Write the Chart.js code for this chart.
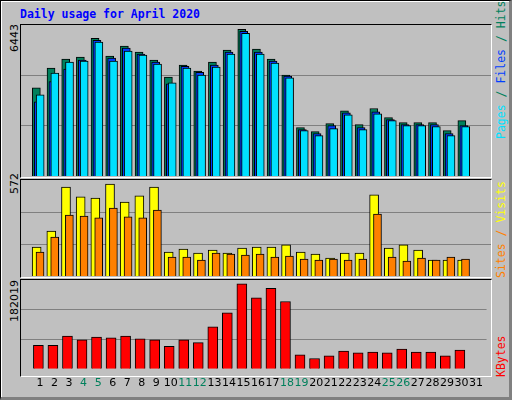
<!DOCTYPE html>
<html><head><meta charset="utf-8">
<script src="https://cdn.jsdelivr.net/npm/chart.js@4"></script>
<style>
body{margin:0;background:#fff;}
#frame{position:absolute;left:0;top:0;width:508px;height:396px;background:#c0c0c0;border:1px solid #000;border-right:3px solid #808080;border-bottom:3px solid #808080;box-shadow:inset 1px 1px 0 #fff;}
.panel{position:absolute;left:20px;width:470px;border:1px solid;border-color:#000 #fff #fff #000;}
canvas{position:absolute;}
.t{position:absolute;font-family:"DejaVu Sans Mono",monospace;white-space:nowrap;}
.rot{transform-origin:left top;transform:rotate(-90deg);}
</style></head><body>
<div id="frame"></div>
<div class="t" style="left:20px;top:7px;font-size:11.5px;font-weight:bold;color:#0000ff">Daily usage for April 2020</div>
<div class="panel" style="top:24px;height:152px"></div>
<div class="panel" style="top:179px;height:97px"></div>
<div class="panel" style="top:279px;height:96px"></div>
<div class="t rot" style="left:8px;top:52px;font-family:'DejaVu Sans';font-size:11px">6443</div>
<div class="t rot" style="left:8px;top:194px;font-family:'DejaVu Sans';font-size:11px">572</div>
<div class="t rot" style="left:8px;top:322px;font-family:'DejaVu Sans';font-size:11px">182019</div>
<div class="t rot" style="left:494px;top:139px;font-size:11.5px"><span style="color:#00e0ff">Pages</span><span style="color:#00805c"> / </span><span style="color:#0040ff">Files</span><span style="color:#00805c"> / Hits</span></div>
<div class="t rot" style="left:494px;top:278px;font-size:11.5px"><span style="color:#ff8000">Sites</span><span style="color:#ff8000"> / </span><span style="color:#ffff00">Visits</span></div>
<div class="t rot" style="left:494px;top:377px;font-size:11.5px;color:#ff0000">KBytes</div>
<canvas id="c1" style="left:21px;top:25px" width="470" height="151"></canvas>
<canvas id="c2" style="left:21px;top:180px" width="470" height="96"></canvas>
<canvas id="c3" style="left:21px;top:280px" width="470" height="118"></canvas>
<script>
const days=[1,2,3,4,5,6,7,8,9,10,11,12,13,14,15,16,17,18,19,20,21,22,23,24,25,26,27,28,29,30,31];
const weekend=[4,5,11,12,18,19,25,26];
const hits=[3760,4607,4989,5074,5879,5116,5540,5286,4947,4226,4735,4480,4862,5370,6260,5413,4989,4311,2064,1895,2234,2785,2191,2882,2488,2276,2276,2276,1937,2361];
const files=[3166,4027,4565,4947,5794,5031,5455,5201,4862,3929,4677,4421,4735,5286,6176,5286,4904,4268,1980,1810,2149,2700,2064,2743,2403,2191,2191,2191,1810,2149];
const pages=[3463,4396,4862,4904,5710,4904,5328,5159,4777,3972,4607,4311,4650,5201,6091,5201,4820,4184,1937,1725,2022,2615,1980,2658,2361,2149,2149,2107,1725,2107];
const sites=[173,268,530,471,465,548,441,477,530,143,161,137,155,137,167,173,173,185,143,131,107,137,137,483,167,185,155,95,95,95];
const visits=[143,232,363,357,346,405,352,346,393,113,113,95,137,131,125,131,113,119,101,95,101,95,101,369,113,89,107,95,113,101];
const kbytes=[47900,47900,67060,59400,65150,63230,67060,61310,59400,45990,59400,53650,86220,114970,174360,145620,164780,137960,28740,21080,26830,36410,32570,34490,32570,40240,34490,34490,26830,38320];
const maxes=[6443,572,182019];
const LO=0.29;
function ds(vals,off,color,w,order){return{data:vals.map((v,i)=>({x:days[i]+off,y:v})),backgroundColor:color,borderColor:'#000',borderWidth:1,barThickness:w,grouped:false,order:order,borderSkipped:'bottom'};}
function opts(max,showX){return{animation:false,responsive:false,maintainAspectRatio:false,
 layout:{padding:0},plugins:{legend:{display:false},tooltip:{enabled:false}},
 scales:{x:{type:'linear',min:0.5,max:31.5,display:showX,border:{display:false},grid:{display:false,drawTicks:false},
   afterBuildTicks:s=>{s.ticks=days.map(d=>({value:d+LO}));},
   ticks:{autoSkip:false,maxRotation:0,padding:8,font:{family:'DejaVu Sans',size:11},
     callback:v=>String(Math.round(v-LO)),
     color:c=>weekend.includes(Math.round(c.tick.value-LO))?'#00805c':'#000'}},
  y:{min:0,max:max,display:true,border:{display:false},grid:{color:'#808080',drawTicks:false,lineWidth:c=>(c.tick.value>0&&c.tick.value<max-1)?1:0},
   afterBuildTicks:s=>{s.ticks=[0,max/3,2*max/3,max].map(v=>({value:v}));},ticks:{display:false}}}};}
new Chart(c1,{type:'bar',data:{datasets:[ds(hits,0.03,'#00805c',8,2),ds(files,0.16,'#0040ff',8,1),ds(pages,0.29,'#00e0ff',8,0)]},options:opts(maxes[0],false)});
new Chart(c2,{type:'bar',data:{datasets:[ds(sites,0.05,'#ffff00',9,1),ds(visits,0.28,'#ff8000',8,0)]},options:opts(maxes[1],false)});
const o3=opts(maxes[2],true);
new Chart(c3,{type:'bar',data:{datasets:[ds(kbytes,0.18,'#ff0000',10,0)]},options:o3});
</script></body></html>
